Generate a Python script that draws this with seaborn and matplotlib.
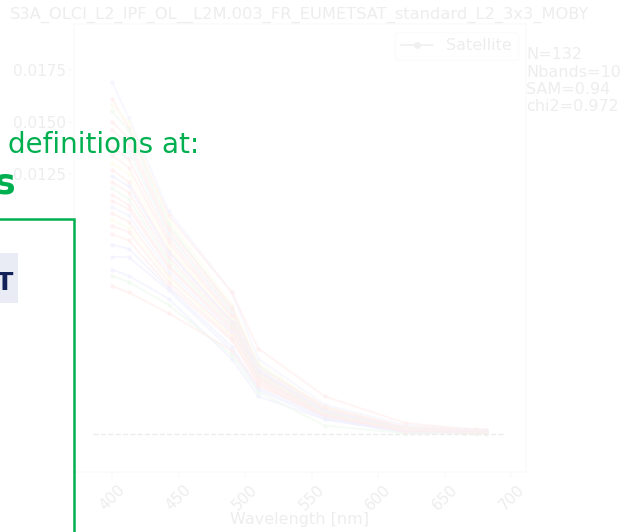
import matplotlib
matplotlib.use("Agg")
import matplotlib.pyplot as plt
import pandas as pd
import seaborn as sns
from matplotlib.patches import Rectangle
from matplotlib.lines import Line2D

# OLCI band centres [nm]
wavelengths = [400.0, 412.5, 442.5, 490.0, 510.0, 560.0, 620.0, 665.0, 673.75, 681.25]

# Satellite Rrs [sr-1] per band, one entry per match-up
rrs_400 = [0.0169, 0.0161, 0.0158, 0.0155, 0.0150, 0.0146, 0.0142, 0.0138, 0.0134, 0.0130, 0.0127, 0.0124, 0.0121,
           0.0118, 0.0115, 0.0112, 0.0109, 0.0106, 0.0103, 0.0100, 0.0096, 0.0091, 0.0085, 0.0079, 0.0076, 0.0071]
rrs_412 = [0.0152, 0.0147, 0.0150, 0.0146, 0.0142, 0.0139, 0.0136, 0.0132, 0.0128, 0.0125, 0.0121, 0.0119, 0.0116,
           0.0113, 0.0110, 0.0108, 0.0105, 0.0102, 0.0099, 0.0097, 0.0093, 0.0089, 0.0085, 0.0076, 0.0073, 0.0068]
rrs_443 = [0.0107, 0.0105, 0.0103, 0.0101, 0.0099, 0.0097, 0.0096, 0.0094, 0.0092, 0.0090, 0.0088, 0.0087, 0.0085,
           0.0083, 0.0081, 0.0080, 0.0078, 0.0076, 0.0075, 0.0073, 0.0071, 0.0070, 0.0069, 0.0065, 0.0062, 0.0058]
rrs_490 = [0.0068, 0.0068, 0.0062, 0.0060, 0.0061, 0.0059, 0.0058, 0.0057, 0.0056, 0.0055, 0.0054, 0.0054, 0.0053,
           0.0052, 0.0051, 0.0050, 0.0049, 0.0048, 0.0047, 0.0046, 0.0045, 0.0042, 0.0040, 0.0036, 0.0038, 0.0040]
rrs_510 = [0.0036, 0.0041, 0.0034, 0.0033, 0.0032, 0.0031, 0.0031, 0.0030, 0.0030, 0.0029, 0.0029, 0.0030, 0.0028,
           0.0028, 0.0027, 0.0027, 0.0026, 0.0026, 0.0025, 0.0025, 0.0024, 0.0022, 0.0021, 0.0018, 0.0020, 0.0023]
rrs_560 = [0.0014, 0.0018, 0.0013, 0.0012, 0.0013, 0.0012, 0.0011, 0.0011, 0.0011, 0.0010, 0.0010, 0.0011, 0.0010,
           0.0010, 0.0009, 0.0009, 0.0009, 0.0009, 0.0008, 0.0008, 0.0008, 0.0008, 0.0007, 0.0007, 0.0004, 0.0009]
rrs_620 = [0.00042, 0.00053, 0.00035, 0.00030, 0.00033, 0.00030, 0.00028, 0.00027, 0.00026, 0.00025, 0.00024,
           0.00026, 0.00022, 0.00022, 0.00020, 0.00020, 0.00019, 0.00018, 0.00017, 0.00016, 0.00015, 0.00012,
           0.00010, 0.00005, 0.00003, 0.00010]
rrs_665 = [0.00026, 0.00024, 0.00020, 0.00018, 0.00020, 0.00019, 0.00017, 0.00016, 0.00016, 0.00015, 0.00015,
           0.00016, 0.00014, 0.00013, 0.00013, 0.00012, 0.00012, 0.00011, 0.00011, 0.00010, 0.00010, 0.00009,
           0.00008, 0.00005, 0.00003, 0.00008]
rrs_674 = [0.00023, 0.00022, 0.00018, 0.00016, 0.00018, 0.00017, 0.00015, 0.00015, 0.00014, 0.00013, 0.00013,
           0.00014, 0.00012, 0.00012, 0.00011, 0.00011, 0.00010, 0.00010, 0.00010, 0.00009, 0.00009, 0.00008,
           0.00007, 0.00004, 0.00002, 0.00007]
rrs_681 = [0.00020, 0.00020, 0.00016, 0.00015, 0.00017, 0.00015, 0.00014, 0.00013, 0.00013, 0.00012, 0.00012,
           0.00012, 0.00011, 0.00010, 0.00010, 0.00010, 0.00009, 0.00009, 0.00009, 0.00008, 0.00008, 0.00007,
           0.00006, 0.00004, 0.00002, 0.00006]

line_colours = ["#7070ff", "#ff2a2a", "#e6dc1e", "#3cc03c", "#ff2a2a", "#ff2a2a", "#40c0e0", "#ff2a2a", "#ff2a2a",
                "#e6dc1e", "#ff2a2a", "#5050ff", "#ff2a2a", "#3cc03c", "#ff2a2a", "#ff2a2a", "#7070ff", "#ff2a2a",
                "#e6dc1e", "#ff2a2a", "#ff2a2a", "#5050ff", "#5050ff", "#5050ff", "#3cc03c", "#ff2a2a"]

stats_lines = ["N=132", "Nbands=10", "SAM=0.94", "chi2=0.972"]
title_text = "S3A_OLCI_L2_IPF_OL__L2M.003_FR_EUMETSAT_standard_L2_3x3_MOBY"

bands = [rrs_400, rrs_412, rrs_443, rrs_490, rrs_510, rrs_560, rrs_620, rrs_665, rrs_674, rrs_681]
records = []
for wl, values in zip(wavelengths, bands):
    for i, v in enumerate(values):
        records.append({"wavelength": wl, "rrs": v, "matchup": i})
df = pd.DataFrame(records)

sns.set_theme(style="ticks")
plt.rcParams.update({
    "axes.edgecolor": ".8",
    "xtick.color": ".8",
    "ytick.color": ".8",
    "xtick.labelcolor": ".15",
    "ytick.labelcolor": ".15",
    "font.family": ["DejaVu Sans"],
})

fig = plt.figure(figsize=(6.21, 5.32), dpi=100)
ax = fig.add_axes([74 / 621, 1 - 472 / 532, 452 / 621, 448 / 532])

sns.lineplot(data=df, x="wavelength", y="rrs", hue="matchup", palette=line_colours,
             estimator=None, marker="o", markersize=3.2, markeredgewidth=0, linewidth=1.3,
             alpha=0.65, legend=False, ax=ax)
ax.hlines(0, 385.7, 694.7, colors="k", linestyles="--", linewidth=1.0)

ax.set_xlim(371.4, 711.0)
ax.set_ylim(-0.00183, 0.0197)
ax.set_xticks([400, 450, 500, 550, 600, 650, 700])
ax.set_yticks([0.0, 0.0025, 0.005, 0.0075, 0.01, 0.0125, 0.015, 0.0175])
ax.set_yticklabels([f"{t:.4f}" for t in ax.get_yticks()])
ax.tick_params(axis="x", labelsize=11, rotation=45, length=4, pad=3)
ax.tick_params(axis="y", labelsize=11, length=4, pad=2)
ax.set_xlabel("Wavelength [nm]", fontsize=11.5, color=".15", va="center")
ax.xaxis.set_label_coords(0.5, -0.105)
ax.set_ylabel("")
ax.set_title(title_text, fontsize=11.7, color=".15", pad=4)

handle = Line2D([], [], color=".3", marker="o", markersize=4, linewidth=1.2)
leg = ax.legend([handle], ["Satellite"], loc="upper right", fontsize=11.5, frameon=True)
for t in leg.get_texts():
    t.set_color(".15")

ax.text(1.0, 0.948, "\n".join(stats_lines), transform=ax.transAxes, ha="left", va="top",
        fontsize=11.5, color=".15", linespacing=1.2)

# Fade the plot underneath the slide layer
fig.add_artist(Rectangle((0, 0), 1, 1, transform=fig.transFigure, facecolor="white",
                         alpha=0.92, edgecolor="none", zorder=50))

W, H = 621, 532
green = "#00b050"

fig.text(8 / W, 1 - 153 / H, "definitions at:", fontsize=20, color=green,
         ha="left", va="baseline", zorder=60)
fig.text(15 / W, 1 - 194 / H, "s", fontsize=25, fontweight="bold", color=green,
         ha="right", va="baseline", zorder=60)

fig.add_artist(Rectangle((-10 / W, -0.05), 84 / W, 1.05 - 219 / H, transform=fig.transFigure,
                         facecolor="white", edgecolor=green, linewidth=1.8, zorder=55))
fig.add_artist(Rectangle((-5 / W, 1 - 303 / H), 23 / W, 50 / H, transform=fig.transFigure,
                         facecolor="#e9ecf5", edgecolor="none", zorder=58))
fig.text(14 / W, 1 - 290 / H, "AT", fontsize=18, fontweight="bold", color="#14225a",
         ha="right", va="baseline", zorder=60)

fig.savefig("out.png", dpi=100)
